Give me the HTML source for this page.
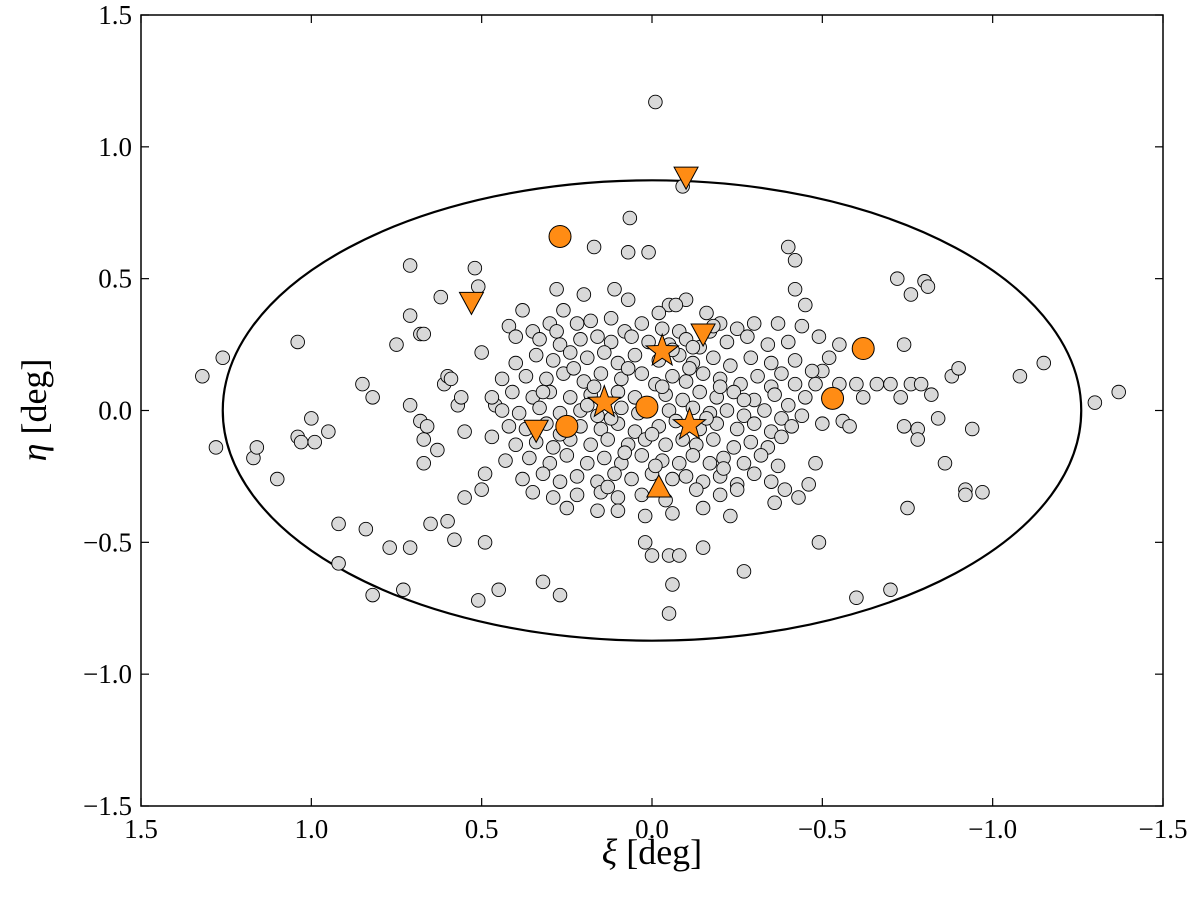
<!DOCTYPE html>
<html><head><meta charset="utf-8"><style>
html,body{margin:0;padding:0;background:#fff;}
svg text{font-family:"Liberation Serif",serif;fill:#000;}
</style></head><body>
<svg id="chart" width="1200" height="897" viewBox="0 0 1200 897" xmlns="http://www.w3.org/2000/svg">
<g id="plot"></g>
<g id="marks"></g>
<g id="axes"></g>
<text x="652" y="864" font-size="36" text-anchor="middle"><tspan font-style="italic">ξ</tspan> [deg]</text>
<text transform="translate(46,410) rotate(-90)" font-size="36" text-anchor="middle"><tspan font-style="italic">η</tspan> [deg]</text>
</svg>
<script>
const xTicks=[1.5,1.0,0.5,0.0,-0.5,-1.0,-1.5];
const yTicks=[-1.5,-1.0,-0.5,0.0,0.5,1.0,1.5];
const tickLabels=["1.5","1.0","0.5","0.0","−0.5","−1.0","−1.5"];
const yTickLabels=["−1.5","−1.0","−0.5","0.0","0.5","1.0","1.5"];
const ellipseRx=1.26, ellipseRy=0.873;
const grayXi=[1.32,1.26,1.28,1.17,1.16,1.1,1.04,1.04,1.03,1.0,0.99,0.95,0.92,0.92,0.84,0.85,0.82,0.82,0.77,0.75,0.73,0.71,0.71,0.71,0.71,0.68,0.67,0.68,0.67,0.67,0.66,0.65,0.63,0.62,0.61,0.6,0.6,0.59,0.58,0.57,0.56,0.55,0.55,0.52,0.51,0.5,0.5,0.49,0.51,0.45,0.49,0.47,0.46,0.42,0.4,0.38,0.32,0.28,0.27,0.2,0.11,0.07,0.17,0.065,0.07,0.01,-0.05,-0.1,0.02,0.0,-0.05,-0.08,-0.15,-0.06,-0.05,-0.27,-0.01,-0.09,-0.4,-0.42,-0.42,-0.45,-0.44,-0.49,-0.55,-0.72,-0.76,-0.8,-0.81,-0.74,-0.66,-0.7,-0.73,-0.76,-0.79,-0.82,-0.88,-0.9,-0.84,-0.78,-0.74,-0.78,-0.86,-0.94,-0.92,-0.92,-0.97,-0.75,-0.6,-0.7,-0.49,-0.39,-0.36,-0.43,-0.46,-0.48,-0.5,-0.56,-0.58,-0.6,-0.62,-1.08,-1.15,-1.3,-1.37,-0.45,-0.48,-0.5,-0.55,-0.52,-0.47,
0.26,0.12,-0.02,-0.07,-0.16,0.3,
0.35,0.28,0.22,0.18,0.08,0.03,-0.03,-0.08,-0.2,-0.25,-0.3,-0.37,-0.17,
0.33,0.27,0.21,0.16,0.12,0.06,0.01,-0.05,-0.1,-0.14,-0.22,-0.28,-0.34,-0.4,
0.4,0.34,0.29,0.24,0.19,0.14,0.1,0.05,-0.02,-0.08,-0.12,-0.18,-0.23,-0.29,-0.35,-0.42,-0.38,
0.44,0.37,0.31,0.26,0.2,0.15,0.09,0.03,-0.01,-0.06,-0.1,-0.15,-0.2,-0.26,-0.31,-0.35,-0.42,
0.47,0.41,0.35,0.3,0.24,0.18,0.1,0.05,-0.04,-0.09,-0.14,-0.19,-0.24,-0.3,-0.36,-0.4,
0.44,0.39,0.33,0.27,0.21,0.16,0.09,0.04,-0.05,-0.12,-0.17,-0.22,-0.27,-0.33,-0.38,-0.44,
0.42,0.37,0.31,0.21,0.15,0.1,0.05,-0.02,-0.07,-0.14,-0.19,-0.25,-0.3,-0.35,-0.41,
0.4,0.34,0.29,0.24,0.18,0.13,0.07,0.02,-0.04,-0.09,-0.13,-0.18,-0.24,-0.29,-0.34,-0.38,
0.43,0.36,0.3,0.25,0.19,0.14,0.09,0.03,-0.03,-0.08,-0.12,-0.17,-0.21,-0.27,-0.32,-0.37,
0.38,0.32,0.27,0.22,0.16,0.11,0.06,0.0,-0.06,-0.1,-0.15,-0.2,-0.25,-0.3,-0.35,
0.35,0.29,0.22,0.15,0.1,0.03,-0.04,-0.13,-0.2,-0.25,
0.25,0.16,0.1,0.02,-0.06,-0.15,-0.23,
0.23,0.17,0.07,-0.03,-0.11,-0.2,0.12,0.0,-0.16,0.27,0.19,-0.06,-0.21,0.08,-0.12,0.32,-0.27,0.13,-0.01,-0.18];
const grayEta=[0.13,0.2,-0.14,-0.18,-0.14,-0.26,0.26,-0.1,-0.12,-0.03,-0.12,-0.08,-0.43,-0.58,-0.45,0.1,0.05,-0.7,-0.52,0.25,-0.68,-0.52,0.55,0.36,0.02,0.29,0.29,-0.04,-0.11,-0.2,-0.06,-0.43,-0.15,0.43,0.1,-0.42,0.13,0.12,-0.49,0.02,0.05,-0.08,-0.33,0.54,0.47,-0.3,0.22,-0.24,-0.72,-0.68,-0.5,-0.1,0.02,0.32,0.28,0.38,-0.65,0.46,-0.7,0.44,0.46,0.42,0.62,0.73,0.6,0.6,0.4,0.42,-0.5,-0.55,-0.55,-0.55,-0.52,-0.66,-0.77,-0.61,1.17,0.85,0.62,0.57,0.46,0.4,0.32,0.28,0.25,0.5,0.44,0.49,0.47,0.25,0.1,0.1,0.05,0.1,0.1,0.06,0.13,0.16,-0.03,-0.07,-0.06,-0.11,-0.2,-0.07,-0.3,-0.32,-0.31,-0.37,-0.71,-0.68,-0.5,-0.3,-0.35,-0.33,-0.28,-0.2,-0.05,-0.04,-0.06,0.1,0.05,0.13,0.18,0.03,0.07,0.05,0.1,0.15,0.1,0.2,0.15,
0.38,0.35,0.37,0.4,0.37,0.33,
0.3,0.3,0.33,0.34,0.3,0.33,0.31,0.3,0.33,0.31,0.33,0.33,0.3,
0.27,0.25,0.27,0.28,0.26,0.28,0.26,0.25,0.27,0.24,0.26,0.28,0.25,0.26,
0.18,0.21,0.19,0.22,0.2,0.22,0.18,0.21,0.19,0.21,0.18,0.2,0.17,0.2,0.18,0.19,0.14,
0.12,0.13,0.12,0.14,0.11,0.14,0.12,0.14,0.1,0.13,0.11,0.14,0.12,0.1,0.13,0.09,0.1,
0.05,0.07,0.05,0.07,0.05,0.06,0.07,0.05,0.06,0.04,0.07,0.05,0.07,0.04,0.06,0.02,
0.0,-0.01,0.01,-0.01,0.0,-0.02,0.01,-0.01,0.0,0.01,-0.01,0.0,-0.02,0.0,-0.03,-0.02,
-0.06,-0.07,-0.05,-0.06,-0.07,-0.05,-0.08,-0.06,-0.04,-0.07,-0.05,-0.07,-0.05,-0.08,-0.06,
-0.13,-0.12,-0.14,-0.11,-0.13,-0.11,-0.13,-0.11,-0.13,-0.11,-0.13,-0.11,-0.14,-0.12,-0.14,-0.1,
-0.19,-0.18,-0.2,-0.17,-0.2,-0.18,-0.2,-0.17,-0.19,-0.2,-0.17,-0.2,-0.18,-0.2,-0.17,-0.21,
-0.26,-0.24,-0.27,-0.25,-0.27,-0.24,-0.26,-0.24,-0.26,-0.25,-0.27,-0.25,-0.28,-0.24,-0.27,
-0.31,-0.33,-0.32,-0.31,-0.33,-0.32,-0.34,-0.3,-0.32,-0.3,
-0.37,-0.38,-0.38,-0.4,-0.39,-0.37,-0.4,
0.16,0.09,0.16,0.09,0.16,0.09,-0.03,-0.09,-0.03,-0.09,0.02,0.23,-0.22,-0.16,0.24,0.07,0.04,-0.29,-0.21,0.32];
const circXi=[0.27,-0.62,-0.53,0.015,0.25];
const circEta=[0.66,0.235,0.046,0.013,-0.06];
const starXi=[-0.03,0.14,-0.11];
const starEta=[0.225,0.03,-0.055];
const downXi=[-0.1,0.53,-0.15,0.34];
const downEta=[0.885,0.41,0.29,-0.075];
const upXi=[-0.02];
const upEta=[-0.29];

const L=141,R=1163,T=15,B=806;
const sx=v=>L+(1.5-v)/3*(R-L);
const sy=v=>T+(1.5-v)/3*(B-T);
const NS="http://www.w3.org/2000/svg";
function mk(tag,parent,attrs){const e=document.createElementNS(NS,tag);for(const k in attrs)e.setAttribute(k,attrs[k]);parent.appendChild(e);return e;}
const marks=document.getElementById('marks');
const axes=document.getElementById('axes');
const plot=document.getElementById('plot');

const bg=mk('rect',plot,{x:L,y:T,width:R-L,height:B-T,fill:'#fff'});



const ell=mk('ellipse',marks,{cx:sx(0),cy:sy(0),rx:sx(0)-sx(ellipseRx),ry:sy(-ellipseRy)-sy(0),fill:'none',stroke:'#000','stroke-width':2.2});



for(let i=0;i<grayXi.length;i++){
  const c=mk('circle',marks,{cx:sx(grayXi[i]),cy:sy(grayEta[i]),r:6.8,fill:'#d9d9d9',stroke:'#000','stroke-width':0.9});
  
  
}
const OR='#ff8c14';
for(let i=0;i<circXi.length;i++){
  const c=mk('circle',marks,{cx:sx(circXi[i]),cy:sy(circEta[i]),r:11,fill:OR,stroke:'#000','stroke-width':1});
  
  
}
function starPts(cx,cy,ro,ri){let p=[];for(let k=0;k<10;k++){const a=-Math.PI/2+k*Math.PI/5;const r=k%2?ri:ro;p.push((cx+r*Math.cos(a)).toFixed(1)+','+(cy+r*Math.sin(a)).toFixed(1));}return p.join(' ');}
for(let i=0;i<starXi.length;i++){
  const s=mk('polygon',marks,{points:starPts(sx(starXi[i]),sy(starEta[i]),17,7),fill:OR,stroke:'#000','stroke-width':1});
  
  
}
for(let i=0;i<downXi.length;i++){
  const x=sx(downXi[i]),y=sy(downEta[i]);
  const t=mk('polygon',marks,{points:`${x-12},${y-10} ${x+12},${y-10} ${x},${y+12}`,fill:OR,stroke:'#000','stroke-width':1});
  
  
}
for(let i=0;i<upXi.length;i++){
  const x=sx(upXi[i]),y=sy(upEta[i]);
  const t=mk('polygon',marks,{points:`${x-12},${y+10} ${x+12},${y+10} ${x},${y-12}`,fill:OR,stroke:'#000','stroke-width':1});
  
  
}

const fr=mk('rect',axes,{x:L,y:T,width:R-L,height:B-T,fill:'none',stroke:'#000','stroke-width':1.5});


for(let i=0;i<xTicks.length;i++){
  const x=sx(xTicks[i]);
  const t1=mk('line',axes,{x1:x,x2:x,y1:B,y2:B-8,stroke:'#000','stroke-width':1.2});
  
  
  const t2=mk('line',axes,{x1:x,x2:x,y1:T,y2:T+8,stroke:'#000','stroke-width':1.2});
  
  
  const tx=mk('text',axes,{x:x,y:B+32,'font-size':27,'text-anchor':'middle'});
  tx.textContent=tickLabels[i];
  
  
}
for(let i=0;i<yTicks.length;i++){
  const y=sy(yTicks[i]);
  const t1=mk('line',axes,{x1:L,x2:L+8,y1:y,y2:y,stroke:'#000','stroke-width':1.2});
  
  
  const t2=mk('line',axes,{x1:R,x2:R-8,y1:y,y2:y,stroke:'#000','stroke-width':1.2});
  
  
  const tx=mk('text',axes,{x:L-9,y:y+9,'font-size':27,'text-anchor':'end'});
  tx.textContent=yTickLabels[i];
  
  
}
</script>
</body></html>
